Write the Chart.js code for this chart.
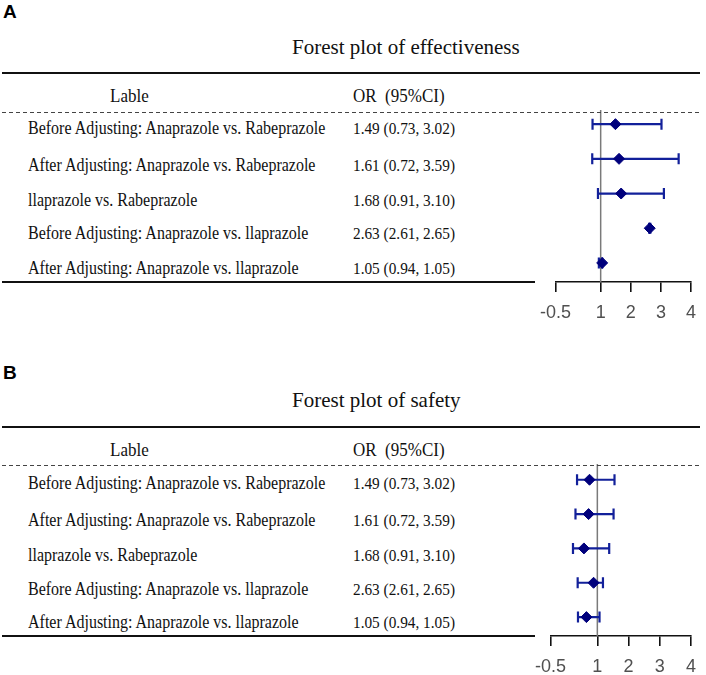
<!DOCTYPE html>
<html>
<head>
<meta charset="utf-8">
<script src="https://cdn.jsdelivr.net/npm/chart.js@4.4.0/dist/chart.umd.min.js"></script>
<style>
  body { margin: 0; background: #fff; }
  #page { position: relative; width: 706px; height: 675px; overflow: hidden; }
  .t { position: absolute; white-space: pre; font-family: 'Liberation Serif', 'Times New Roman', serif; color: #111; line-height: 22px; }
  .tall { transform: scaleY(1.15); transform-origin: 0 50%; }
  .panel-label { position: absolute; font-family: 'Liberation Sans', Arial, sans-serif; font-weight: bold; font-size: 19px; color: #000; }
  .hline { position: absolute; background: #111; }
  .dash { position: absolute; height: 1px; background: repeating-linear-gradient(to right, #444 0 4px, transparent 4px 7px); }
  canvas { position: absolute; }
</style>
</head>
<body>
<div id="page">
  <canvas id="plotA" width="176" height="230" style="left:530px;top:100px;"></canvas>
  <canvas id="plotB" width="181" height="230" style="left:525px;top:454px;"></canvas>
</div>
<script>
var rowLabels = [
  'Before Adjusting: Anaprazole vs. Rabeprazole',
  'After Adjusting: Anaprazole vs. Rabeprazole',
  'llaprazole vs. Rabeprazole',
  'Before Adjusting: Anaprazole vs. llaprazole',
  'After Adjusting: Anaprazole vs. llaprazole'
];

// printed OR (95%CI) column (same text in both panels)
var orPrinted = [1.49, 1.61, 1.68, 2.63, 1.05];
var loPrinted = [0.73, 0.72, 0.91, 2.61, 0.94];
var hiPrinted = [3.02, 3.59, 3.10, 2.65, 1.05];

// plotted marks, panel A (effectiveness)
var estA = [1.49, 1.61, 1.68, 2.63, 1.05];
var lowA = [0.73, 0.72, 0.91, 2.61, 0.94];
var highA = [3.02, 3.59, 3.10, 2.65, 1.05];

// plotted marks, panel B (safety)
var estB = [0.75, 0.72, 0.57, 0.88, 0.65];
var lowB = [0.35, 0.30, 0.22, 0.37, 0.38];
var highB = [1.55, 1.52, 1.38, 1.18, 1.07];

var xTicks = [-0.5, 1, 2, 3, 4];

var page = document.getElementById('page');

function addText(txt, cls, left, cy, size) {
  var d = document.createElement('div');
  d.className = cls;
  d.textContent = txt;
  d.style.left = left + 'px';
  d.style.top = (cy - 11) + 'px';
  d.style.fontSize = size + 'px';
  page.appendChild(d);
  return d;
}

function addLine(cls, left, top, width, height) {
  var d = document.createElement('div');
  d.className = cls;
  d.style.left = left + 'px';
  d.style.top = top + 'px';
  d.style.width = width + 'px';
  if (height) d.style.height = height + 'px';
  page.appendChild(d);
}

function fmt(v) { return v.toFixed(2); }

function Table(letter, letterTop, title, y) {
  var lab = document.createElement('div');
  lab.className = 'panel-label';
  lab.textContent = letter;
  lab.style.left = '3px';
  lab.style.top = letterTop + 'px';
  page.appendChild(lab);

  addText(title, 't', 292, y.title, 21);
  addLine('hline', 2, y.topLine, 698, 2);
  addText('Lable', 't tall', 110, y.header, 17);
  addText('OR  (95%CI)', 't tall', 353, y.header, 17);
  addLine('dash', 2, y.dash, 698);
  for (var i = 0; i < rowLabels.length; i++) {
    addText(rowLabels[i], 't tall', 28, y.rows[i], 16);
    addText(fmt(orPrinted[i]) + ' (' + fmt(loPrinted[i]) + ', ' + fmt(hiPrinted[i]) + ')', 't tall', 353, y.rows[i], 15.3);
  }
  addLine('hline', 2, y.bottom, 533, 2);
}

Table('A', 1, 'Forest plot of effectiveness', {title: 47, topLine: 72, header: 96, dash: 112, rows: [128, 165, 200, 233, 268], bottom: 281});
Table('B', 362, 'Forest plot of safety', {title: 400, topLine: 426, header: 450, dash: 465, rows: [483, 520, 555, 589, 622], bottom: 635});

var errorBars = {
  id: 'errorBars',
  beforeDatasetsDraw: function(chart, args, opts) {
    var ctx = chart.ctx;
    var xs = chart.scales.x, ys = chart.scales.y;
    var area = chart.chartArea;
    ctx.save();
    // reference line at OR = 1
    ctx.strokeStyle = '#7a7a7a';
    ctx.lineWidth = 1.5;
    ctx.beginPath();
    ctx.moveTo(xs.getPixelForValue(1), area.top - 2);
    ctx.lineTo(xs.getPixelForValue(1), area.bottom);
    ctx.stroke();
    ctx.strokeStyle = '#12209a';
    ctx.lineWidth = 2.2;
    for (var i = 0; i < opts.low.length; i++) {
      var x1 = xs.getPixelForValue(opts.low[i]);
      var x2 = xs.getPixelForValue(opts.high[i]);
      var yy = ys.getPixelForValue(i + 1);
      ctx.beginPath();
      ctx.moveTo(x1, yy); ctx.lineTo(x2, yy);
      ctx.moveTo(x1, yy - 5.5); ctx.lineTo(x1, yy + 5.5);
      ctx.moveTo(x2, yy - 5.5); ctx.lineTo(x2, yy + 5.5);
      ctx.stroke();
    }
    ctx.restore();
  }
};

function ForestPlot(id, est, low, high, padLeft, padRight, yMin, yMax) {
  var pts = est.map(function(v, i) { return {x: v, y: i + 1}; });
  return new Chart(document.getElementById(id), {
    type: 'scatter',
    data: {
      datasets: [{
        data: pts,
        pointStyle: 'rectRot',
        pointRadius: 5.5,
        backgroundColor: '#00007c',
        borderColor: '#00007c',
        borderWidth: 1
      }]
    },
    options: {
      responsive: false,
      animation: false,
      layout: { padding: { left: padLeft, right: padRight, top: 12, bottom: 0 } },
      plugins: {
        legend: { display: false },
        tooltip: { enabled: false },
        errorBars: { low: low, high: high }
      },
      scales: {
        x: {
          type: 'linear',
          min: -0.5,
          max: 4,
          afterBuildTicks: function(scale) {
            scale.ticks = xTicks.map(function(v) { return {value: v}; });
          },
          afterFit: function(scale) { scale.height = 48; },
          grid: { drawOnChartArea: false, drawTicks: true, tickLength: 10, color: '#111', lineWidth: 1.6 },
          border: { display: true, color: '#111', width: 1.6 },
          ticks: {
            color: '#505050',
            padding: 10,
            maxRotation: 0,
            autoSkip: false,
            font: { family: "'Liberation Sans', Arial, sans-serif", size: 18 },
            callback: function(v) { return String(v); }
          }
        },
        y: { type: 'linear', reverse: true, min: yMin, max: yMax, display: false }
      }
    },
    plugins: [errorBars]
  });
}

ForestPlot('plotA', estA, lowA, highA, 19, 8, 0.65, 5.55);
ForestPlot('plotB', estB, lowB, highB, 18, 13, 0.6, 5.55);
</script>
</body>
</html>
